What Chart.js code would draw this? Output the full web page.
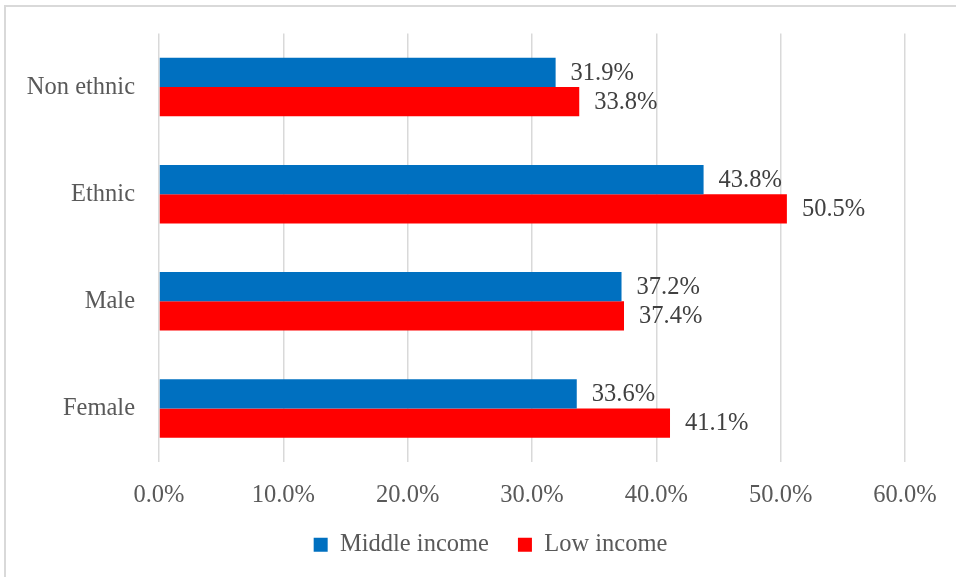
<!DOCTYPE html>
<html>
<head>
<meta charset="utf-8">
<script src="https://cdn.jsdelivr.net/npm/chart.js@4/dist/chart.umd.min.js"></script>
<style>
  html, body { margin: 0; padding: 0; background: #fff; overflow: hidden; }
  #frame { position: absolute; left: 4px; top: 5px; width: 1000px; height: 600px; border: 2px solid #d9d9d9; }
  #wrap { position: absolute; left: 0; top: 0; width: 956px; height: 577px; }
</style>
</head>
<body>
<div id="frame"></div>
<div id="wrap"><canvas id="chart" width="956" height="577"></canvas></div>
<script>
const categories = ['Non ethnic', 'Ethnic', 'Male', 'Female'];
const middleIncome = [31.9, 43.8, 37.2, 33.6];
const lowIncome = [33.8, 50.5, 37.4, 41.1];

const FONT = 'Liberation Serif, "Times New Roman", serif';

// value labels to the right of each bar
const barLabels = {
    id: 'barLabels',
    afterDatasetsDraw(chart) {
        const ctx = chart.ctx;
        ctx.save();
        ctx.font = '24.5px ' + FONT;
        ctx.fillStyle = '#404040';
        ctx.textAlign = 'left';
        ctx.textBaseline = 'middle';
        chart.data.datasets.forEach((ds, i) => {
            chart.getDatasetMeta(i).data.forEach((bar, j) => {
                ctx.fillText(ds.data[j].toFixed(1) + '%', bar.x + 15, bar.y + 1);
            });
        });
        ctx.restore();
    }
};

// legend is centred on the whole frame, not just the plot
const shiftLegend = {
    id: 'shiftLegend',
    afterLayout(chart) {
        chart.legend.left += 38;
        chart.legend.right += 38;
    }
};

new Chart(document.getElementById('chart'), {
    type: 'bar',
    data: {
        labels: categories,
        datasets: [
            { label: 'Middle income', data: middleIncome, backgroundColor: '#0070C0' },
            { label: 'Low income', data: lowIncome, backgroundColor: '#FF0000' }
        ]
    },
    options: {
        indexAxis: 'y',
        responsive: false,
        animation: false,
        categoryPercentage: 0.545,
        barPercentage: 1,
        layout: { padding: { top: 33.5, right: 51, left: 0, bottom: 10 } },
        scales: {
            x: {
                min: 0,
                max: 60,
                ticks: {
                    stepSize: 10,
                    padding: 19,
                    color: '#595959',
                    font: { family: FONT, size: 24.5 },
                    callback: (v) => v.toFixed(1) + '%'
                },
                grid: { color: '#d9d9d9', lineWidth: 1.5, drawTicks: false },
                border: { display: false },
                afterFit: (s) => { s.height = 41.5; }
            },
            y: {
                ticks: {
                    padding: 16,
                    color: '#595959',
                    font: { family: FONT, size: 24.5 }
                },
                grid: { display: false },
                border: { display: false },
                afterFit: (s) => { s.width = 159; }
            }
        },
        plugins: {
            legend: {
                position: 'bottom',
                labels: {
                    boxWidth: 14,
                    boxHeight: 14,
                    padding: 29,
                    color: '#595959',
                    font: { family: FONT, size: 24.5 }
                }
            },
            tooltip: { enabled: false }
        }
    },
    plugins: [barLabels, shiftLegend]
});
</script>
</body>
</html>
